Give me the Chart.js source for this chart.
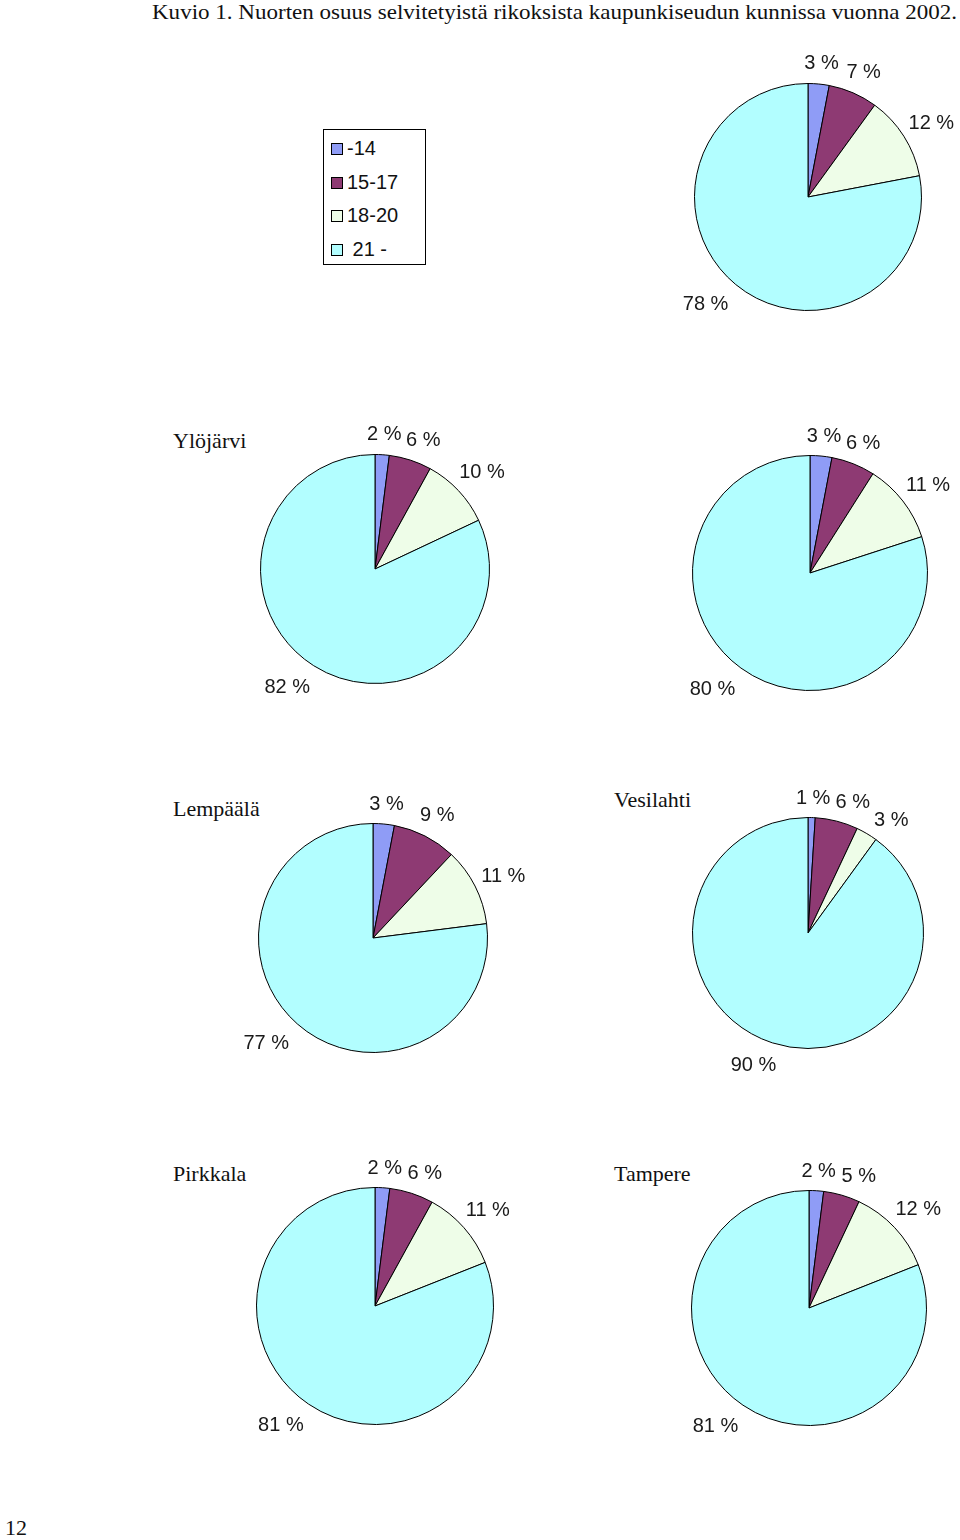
<!DOCTYPE html>
<html><head><meta charset="utf-8">
<script src="https://cdn.jsdelivr.net/npm/chart.js@4/dist/chart.umd.min.js"></script>
<style>
body{margin:0;background:#fff;width:960px;height:1540px;position:relative;overflow:hidden;}
.serif{font-family:"Liberation Serif","Times New Roman",serif;color:#111;position:absolute;white-space:nowrap;font-size:22px;line-height:22px;transform-origin:0 0;}
.pie{position:absolute;}
#legend{position:absolute;left:323px;top:129px;width:103px;height:136px;border:1.5px solid #000;box-sizing:border-box;font-family:"Liberation Sans",Arial,sans-serif;font-size:20px;color:#111;}
.li{position:absolute;left:7px;height:20px;line-height:20px;white-space:pre;}
.sw{display:inline-block;width:10px;height:10px;border:1px solid #000;margin-right:4px;vertical-align:0px;}
</style>
</head><body>
<div class="serif" id="title" style="left:152px;top:1px;">Kuvio 1. Nuorten osuus selvitetyistä rikoksista kaupunkiseudun kunnissa vuonna 2002.</div>
<div id="legend"></div>
<div class="serif" style="left:5px;top:1517px;">12</div>
<script>
// ---- data ----
const categories = ['-14', '15-17', '18-20', ' 21 -'];
const colors = ['#8f9cf6', '#8e3a73', '#eefde8', '#b2feff'];
const names = ['', 'Ylöjärvi', '', 'Lempäälä', 'Vesilahti', 'Pirkkala', 'Tampere'];
const valsRegion    = [3, 7, 12, 78];
const valsYlojarvi  = [2, 6, 10, 82];
const valsThird     = [3, 6, 11, 80];
const valsLempaala  = [3, 9, 11, 77];
const valsVesilahti = [1, 6, 3, 90];
const valsPirkkala  = [2, 6, 11, 81];
const valsTampere   = [2, 5, 12, 81];
const allValues = [valsRegion, valsYlojarvi, valsThird, valsLempaala, valsVesilahti, valsPirkkala, valsTampere];

// ---- layout (positions only) ----
const layout = [
  {cx:808, cy:197, r:113, nx:null, ny:null},
  {cx:375, cy:569, r:114, nx:173, ny:430},
  {cx:810, cy:573, r:117, nx:null, ny:null},
  {cx:373, cy:938, r:114, nx:173, ny:798},
  {cx:808, cy:933, r:115, nx:614, ny:789},
  {cx:375, cy:1306, r:118, nx:173, ny:1163},
  {cx:809, cy:1308, r:117, nx:614, ny:1163}
];
const PAD = 80;

// fit title width
const t = document.getElementById('title');
const tw = t.getBoundingClientRect().width;
t.style.transform = 'scaleX(' + (805 / tw) + ')';

// legend
const leg = document.getElementById('legend');
const ly = [8, 42, 75, 109];
categories.forEach((c, i) => {
  const d = document.createElement('div');
  d.className = 'li';
  d.style.top = ly[i] + 'px';
  d.innerHTML = '<span class="sw" style="background:' + colors[i] + '"></span>' + c;
  leg.appendChild(d);
});

const outLabels = {
  id: 'outLabels',
  afterDatasetsDraw(chart) {
    const ctx = chart.ctx;
    const meta = chart.getDatasetMeta(0);
    const ds = chart.data.datasets[0];
    ctx.save();
    ctx.font = '20px "Liberation Sans", Arial, sans-serif';
    ctx.fillStyle = '#1a1a1a';
    ctx.textAlign = 'center';
    ctx.textBaseline = 'middle';
    const placed = [];
    const h = 15, G = 11, SHIFT = -5, BIAS = 2.5 * Math.PI / 180;
    meta.data.forEach((arc, i) => {
      const p = arc.getProps(['x', 'y', 'startAngle', 'endAngle', 'outerRadius'], true);
      const txt = ds.data[i] + ' %';
      const w = ctx.measureText(txt).width;
      let a = (p.startAngle + p.endAngle) / 2 + BIAS;
      let box, cxT, cyT;
      for (let step = 0; step < 60; step++) {
        const dx = Math.cos(a), dy = Math.sin(a);
        const d = p.outerRadius + G + Math.abs(dx) * w / 2 + Math.abs(dy) * h / 2;
        cxT = p.x + dx * d + SHIFT;
        cyT = p.y + dy * d;
        box = {l: cxT - w / 2, r: cxT + w / 2, t: cyT - h / 2, b: cyT + h / 2};
        const hit = placed.some(q => box.l < q.r + 4 && box.r > q.l - 4 && box.t < q.b + 2 && box.b > q.t - 2);
        if (!hit) break;
        a += Math.PI / 180;
      }
      placed.push(box);
      ctx.fillText(txt, cxT, cyT);
    });
    ctx.restore();
  }
};

allValues.forEach((vals, k) => {
  const L = layout[k];
  if (names[k]) {
    const n = document.createElement('div');
    n.className = 'serif';
    n.style.left = L.nx + 'px';
    n.style.top = L.ny + 'px';
    n.textContent = names[k];
    document.body.appendChild(n);
  }
  const S = 2 * (L.r + PAD);
  const div = document.createElement('div');
  div.className = 'pie';
  div.style.left = (L.cx - L.r - PAD) + 'px';
  div.style.top = (L.cy - L.r - PAD) + 'px';
  const cv = document.createElement('canvas');
  cv.width = S; cv.height = S;
  cv.style.width = S + 'px'; cv.style.height = S + 'px';
  div.appendChild(cv);
  document.body.appendChild(div);
  new Chart(cv, {
    type: 'pie',
    data: {labels: categories, datasets: [{data: vals, backgroundColor: colors, borderColor: '#000', borderWidth: 1}]},
    options: {
      responsive: false, animation: false,
      layout: {padding: PAD - 1},
      plugins: {legend: {display: false}, tooltip: {enabled: false}}
    },
    plugins: [outLabels]
  });
});
</script>
</body></html>
